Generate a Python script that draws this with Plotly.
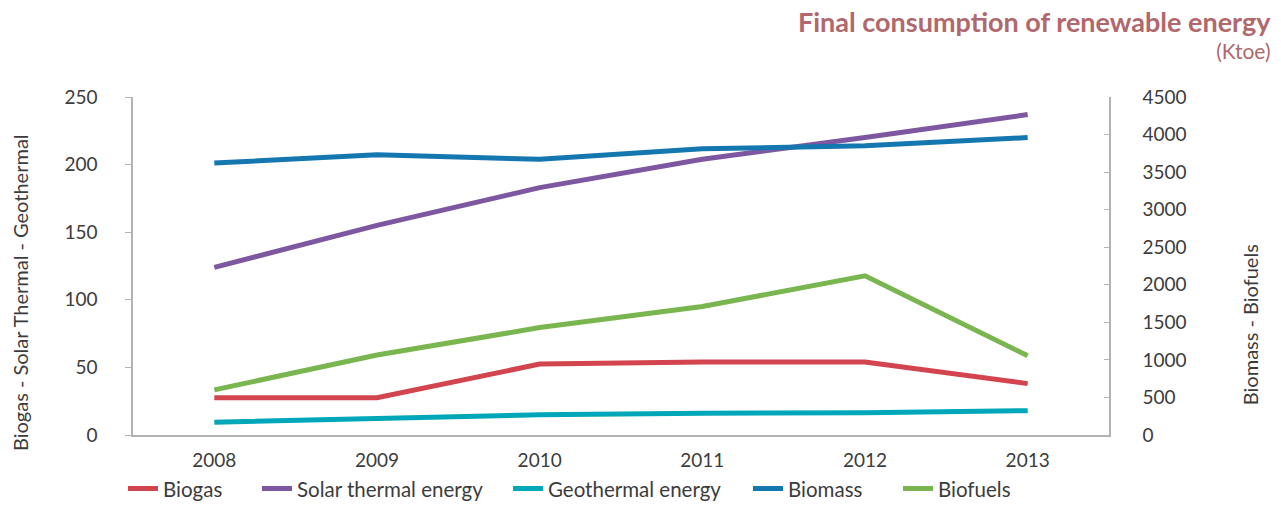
import plotly.graph_objects as go

years = ["2008", "2009", "2010", "2011", "2012", "2013"]
biogas = [27.5, 27.5, 52.5, 54, 54, 38]
solar_thermal = [124, 155, 183, 204, 220, 237]
geothermal = [9.5, 12.5, 15, 16, 16.5, 18]
biomass = [3620, 3730, 3670, 3810, 3850, 3960]
biofuels = [600, 1065, 1430, 1710, 2120, 1055]

colors = {
    "Biogas": "#d2454f",
    "Solar thermal energy": "#7d58a0",
    "Geothermal energy": "#00a7b8",
    "Biomass": "#1577b0",
    "Biofuels": "#7ab650",
}

FONT = "Lato"
fig = go.Figure()
series = [
    ("Biogas", biogas, "y"),
    ("Solar thermal energy", solar_thermal, "y"),
    ("Geothermal energy", geothermal, "y"),
    ("Biomass", biomass, "y2"),
    ("Biofuels", biofuels, "y2"),
]
# pixel left edge of each legend entry's symbol
legend_px = [130, 264, 515, 755, 905]

legend_layout = {}
for i, ((name, vals, ax), px) in enumerate(zip(series, legend_px)):
    key = "legend" if i == 0 else f"legend{i + 1}"
    fig.add_trace(go.Scatter(
        x=years, y=vals, name=name, mode="lines", yaxis=ax,
        line=dict(color=colors[name], width=5), legend=key,
    ))
    legend_layout[key] = dict(
        orientation="h", x=(px - 7 - 133) / 976, xanchor="left", y=-0.1,
        yanchor="top", font=dict(family=FONT, size=20.5, color="#3c3c3c"),
        bgcolor="rgba(0,0,0,0)", itemwidth=30)

axis_col = "#b3b3b3"
tick_font = dict(family=FONT, size=19, color="#3c3c3c")
fig.update_layout(
    width=1281, height=505,
    margin=dict(l=133, r=172, t=97, b=70, autoexpand=False),
    plot_bgcolor="white", paper_bgcolor="white",
    font=dict(family=FONT, color="#3c3c3c"),
    xaxis=dict(type="category", range=[-0.5, 5.5], showgrid=False,
               showline=True, linecolor=axis_col, linewidth=1.5,
               ticks="", tickfont=tick_font, ticklabelstandoff=7,
               automargin=False),
    yaxis=dict(range=[0, 250], dtick=50, showgrid=False, zeroline=False,
               showline=True, linecolor=axis_col, linewidth=1.5,
               ticks="outside", ticklen=6, tickcolor=axis_col,
               tickfont=tick_font, ticklabelstandoff=24, automargin=False),
    yaxis2=dict(range=[0, 4500], dtick=500, overlaying="y", side="right",
                showgrid=False, zeroline=False, showline=True,
                linecolor=axis_col, linewidth=1.5,
                ticks="inside", ticklen=5, tickcolor=axis_col,
                tickfont=tick_font, ticklabelstandoff=28, automargin=False),
    showlegend=True,
    **legend_layout,
)

title_col = "#b0686d"
fig.add_annotation(
    text="<span style='font-size:27px'><b>Final consumption of renewable energy</b></span>"
         "<br>(Ktoe)",
    xref="paper", yref="paper", x=1.168, y=1.277,
    xanchor="right", yanchor="top", align="right", showarrow=False,
    font=dict(family=FONT, size=21, color=title_col))
fig.add_annotation(text="Biogas - Solar Thermal - Geothermal", xref="paper",
                   yref="paper", x=-0.1158, y=0.423, textangle=-90,
                   xanchor="center", yanchor="middle", showarrow=False,
                   font=dict(family=FONT, size=20, color="#3c3c3c"))
fig.add_annotation(text="Biomass - Biofuels", xref="paper", yref="paper",
                   x=1.1445, y=0.325, textangle=-90,
                   xanchor="center", yanchor="middle", showarrow=False,
                   font=dict(family=FONT, size=20, color="#3c3c3c"))

fig.write_html("out.html", config={"displayModeBar": False},
               post_script="document.body.style.margin='0px';")
